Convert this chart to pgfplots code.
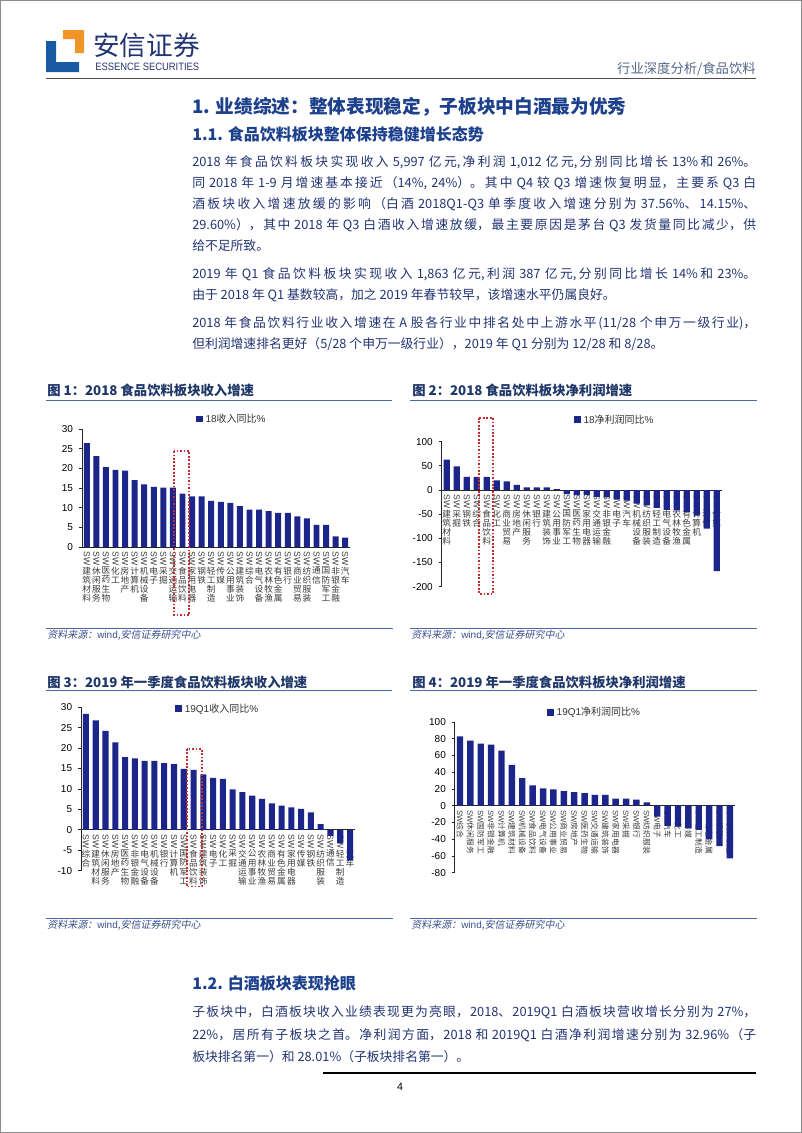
\documentclass[border=0pt]{standalone}
\usepackage{fontspec}
\setmainfont{Noto Sans CJK SC}
\newfontfamily\lib{Liberation Sans}
\newfontfamily\srcfont{Noto Sans CJK SC}[FakeSlant=0.2]
\usepackage{pgfplots}
\pgfplotsset{compat=1.18}
\XeTeXlinebreaklocale "zh"
\XeTeXlinebreakskip=0pt plus 2pt
\definecolor{barblue}{RGB}{28,38,138}
\definecolor{txt}{RGB}{35,52,115}
\definecolor{head}{RGB}{28,64,140}
\definecolor{cap}{RGB}{31,55,105}
\definecolor{capline}{RGB}{74,106,165}
\definecolor{src}{RGB}{60,80,140}
\definecolor{hdr}{RGB}{85,105,140}
\definecolor{logoorange}{RGB}{240,150,40}
\definecolor{logoblue}{RGB}{25,90,165}
\definecolor{redbox}{RGB}{195,45,50}
\definecolor{labgray}{RGB}{60,60,60}
\newcommand\tnfont{\lib\fontsize{7.5}{8}\selectfont}
\newcommand\tlfont{\fontsize{6.5}{6.9}\selectfont}
\newcommand\lgfont{\fontsize{7.5}{8}\selectfont}
\newcommand\sw[1]{\rotatebox{-90}{\lib SW}\\#1}
\tikzset{rbox/.style={draw=redbox, line width=1.3pt, dash pattern=on 1.3pt off 1.3pt}}
\pgfplotsset{
  chart/.style={
    scale only axis, anchor=south west, clip=false,
    ybar, bar width=0.62,
    axis y line=left,
    axis line style={-, black!85, line width=0.6pt},
    tick align=outside, major tick length=2.2pt,
    ytick style={black!85, line width=0.6pt},
    xtick style={draw=none},
    yticklabel style={font=\tnfont, text=black, xshift=-1pt},
    xticklabel style={font=\tlfont, text=labgray, align=center, anchor=north, inner sep=1pt, yshift=-1.2pt},
    /pgf/number format/assume math mode=true,
    legend style={draw=none, fill=none, anchor=center, font=\lgfont, text=black!80, inner sep=0pt},
    legend image code/.code={\fill[barblue] (0pt,-2.6pt) rectangle (5.2pt,2.6pt);},
  },
  noarrow/.style={
    every inner x axis line/.append style={-},
    every outer x axis line/.append style={-},
    every inner y axis line/.append style={-},
    every outer y axis line/.append style={-},
  },
  barplot/.style={fill=barblue, draw=none},
}
\begin{document}
\begin{tikzpicture}
\begin{scope}[x=0.75pt,y=-0.75pt]
\fill[white] (0,0) rectangle (802,1133);
\draw[black!45, line width=0.75pt] (0.5,0.5) rectangle (801.5,1132.5);
% logo
\fill[logoorange] (63,30) -- (84,30) -- (84,53) -- (75,53) -- (75,39) -- (63,39) -- cycle;
\fill[logoblue] (46,41) -- (56,41) -- (56,62) -- (79,62) -- (79,72) -- (46,72) -- cycle;
\node[anchor=west, inner sep=0pt, text=txt, font=\fontsize{20}{20}\selectfont] at (93,45) {安信证券};
\node[anchor=west, inner sep=0pt, text=txt] at (95,67) {\resizebox{78pt}{5.6pt}{\lib ESSENCE SECURITIES}};
\node[anchor=east, inner sep=0pt, text=hdr, font=\fontsize{10}{10}\selectfont] at (756,69) {行业深度分析/食品饮料};
\draw[black!70, line width=1.1pt] (46,78.5) -- (756,78.5);
% headings
\node[anchor=west, inner sep=0pt, text=head, font=\bfseries\fontsize{14}{14}\selectfont] at (192,107) {1. 业绩综述：整体表现稳定，子板块中白酒最为优秀};
\node[anchor=west, inner sep=0pt, text=head, font=\bfseries\fontsize{12}{12}\selectfont] at (192,134) {1.1. 食品饮料板块整体保持稳健增长态势};
\tikzset{para/.style={anchor=west, inner sep=0pt, text width=423pt, align=justify, text=txt, font=\fontsize{9.6}{12}\selectfont}}
\node[para] at (192,162) {\parfillskip=0pt 2018 年食品饮料板块实现收入 5,997 亿元,净利润 1,012 亿元,分别同比增长 13\%和 26\%。\par};
\node[para] at (192,183) {\parfillskip=0pt 同 2018 年 1-9 月增速基本接近（14\%, 24\%）。其中 Q4 较 Q3 增速恢复明显，主要系 Q3 白\par};
\node[para] at (192,204) {\parfillskip=0pt 酒板块收入增速放缓的影响（白酒 2018Q1-Q3 单季度收入增速分别为 37.56\%、14.15\%、\par};
\node[para] at (192,225) {\parfillskip=0pt 29.60\%），其中 2018 年 Q3 白酒收入增速放缓，最主要原因是茅台 Q3 发货量同比减少，供\par};
\node[para] at (192,246) {给不足所致。\par};
\node[para] at (192,274) {\parfillskip=0pt 2019 年 Q1 食品饮料板块实现收入 1,863 亿元,利润 387 亿元,分别同比增长 14\%和 23\%。\par};
\node[para] at (192,295) {由于 2018 年 Q1 基数较高，加之 2019 年春节较早，该增速水平仍属良好。\par};
\node[para] at (192,323) {\parfillskip=0pt 2018 年食品饮料行业收入增速在 A 股各行业中排名处中上游水平(11/28 个申万一级行业)，\par};
\node[para] at (192,344) {但利润增速排名更好（5/28 个申万一级行业），2019 年 Q1 分别为 12/28 和 8/28。\par};
% captions
\tikzset{capt/.style={anchor=west, inner sep=0pt, text=cap, font=\bfseries\fontsize{10}{10}\selectfont}}
\node[capt] at (47,390) {图 1：2018 食品饮料板块收入增速};
\node[capt] at (412,390) {图 2：2018 食品饮料板块净利润增速};
\node[capt] at (47,682) {图 3：2019 年一季度食品饮料板块收入增速};
\node[capt] at (412,682) {图 4：2019 年一季度食品饮料板块净利润增速};
\draw[capline, line width=1.2pt] (46,400.5) -- (392,400.5);
\draw[capline, line width=1.2pt] (410,400.5) -- (757,400.5);
\draw[capline, line width=1.2pt] (46,690.5) -- (392,690.5);
\draw[capline, line width=1.2pt] (410,690.5) -- (757,690.5);
% sources
\tikzset{srct/.style={anchor=west, inner sep=0pt, text=src, font=\srcfont\fontsize{7.5}{8}\selectfont}}
\draw[capline, line width=0.7pt] (46,628.3) -- (393,628.3);
\draw[capline, line width=0.7pt] (410,628.3) -- (757,628.3);
\draw[capline, line width=0.7pt] (46,918) -- (393,918);
\draw[capline, line width=0.7pt] (410,918) -- (757,918);
\node[srct] at (47,635.5) {资料来源：{\lib wind},安信证券研究中心};
\node[srct] at (411,635.5) {资料来源：{\lib wind},安信证券研究中心};
\node[srct] at (47,925) {资料来源：{\lib wind},安信证券研究中心};
\node[srct] at (411,925) {资料来源：{\lib wind},安信证券研究中心};
% section 1.2
\node[anchor=west, inner sep=0pt, text=head, font=\bfseries\fontsize{12}{12}\selectfont] at (192,983) {1.2. 白酒板块表现抢眼};
\node[para] at (192,1012) {\parfillskip=0pt 子板块中，白酒板块收入业绩表现更为亮眼，2018、2019Q1 白酒板块营收增长分别为 27\%，\par};
\node[para] at (192,1035) {\parfillskip=0pt 22\%，居所有子板块之首。净利润方面，2018 和 2019Q1 白酒净利润增速分别为 32.96\%（子\par};
\node[para] at (192,1057) {板块排名第一）和 28.01\%（子板块排名第一）。\par};
\draw[black, line width=0.8pt] (323,1073) -- (756,1073);
\node[inner sep=0pt, font=\lib\fontsize{8}{8}\selectfont] at (400,1087) {4};
\end{scope}

% ---------- Chart 1 ----------
\begin{axis}[chart, at={(61.5pt,-410.25pt)}, width=201pt, height=88.5pt,
  xmin=-0.5, xmax=27.5, ymin=0, ymax=30, ytick={0,5,...,30},
  axis x line=bottom, noarrow, xtick={0,...,27},
  xticklabels={{\sw{建\\筑\\材\\料}},{\sw{休\\闲\\服\\务}},{\sw{医\\药\\生\\物}},{\sw{化\\工}},{\sw{房\\地\\产}},{\sw{计\\算\\机}},{\sw{机\\械\\设\\备}},{\sw{电\\子}},{\sw{采\\掘}},{\sw{交\\通\\运\\输}},{\sw{食\\品\\饮\\料}},{\sw{家\\用\\电\\器}},{\sw{钢\\铁}},{\sw{轻\\工\\制\\造}},{\sw{传\\媒}},{\sw{公\\用\\事\\业}},{\sw{建\\筑\\装\\饰}},{\sw{综\\合}},{\sw{电\\气\\设\\备}},{\sw{农\\林\\牧\\渔}},{\sw{有\\色\\金\\属}},{\sw{银\\行}},{\sw{商\\业\\贸\\易}},{\sw{纺\\织\\服\\装}},{\sw{通\\信}},{\sw{国\\防\\军\\工}},{\sw{非\\银\\金\\融}},{\sw{汽\\车}}},
  legend style={at={(0.56,1.085)}}]
\addplot[barplot] coordinates {(0,26.4) (1,23.1) (2,20.3) (3,19.6) (4,19.4) (5,17.0) (6,15.9) (7,15.3) (8,15.1) (9,15.1) (10,13.6) (11,12.9) (12,12.9) (13,11.7) (14,11.5) (15,11.2) (16,10.4) (17,9.5) (18,9.5) (19,9.1) (20,8.7) (21,8.7) (22,7.8) (23,7.3) (24,5.6) (25,5.6) (26,2.7) (27,2.4)};
\addlegendentry{{\lib 18}收入同比{\lib\%}}
\draw[rbox] (axis cs:9.15,24.4) rectangle (axis cs:10.7,-17.3);
\end{axis}

% ---------- Chart 2 ----------
\begin{axis}[chart, at={(331.3pt,-440pt)}, width=210pt, height=108.75pt,
  xmin=-0.5, xmax=27.5, ymin=-200, ymax=100, ytick={-200,-150,...,100},
  axis x line=middle, noarrow, xtick={0,...,27},
  xticklabels={{\sw{建\\筑\\材\\料}},{\sw{采\\掘}},{\sw{钢\\铁}},{\sw{综\\合}},{\sw{食\\品\\饮\\料}},{\sw{化\\工}},{\sw{商\\业\\贸\\易}},{\sw{房\\地\\产}},{\sw{休\\闲\\服\\务}},{\sw{银\\行}},{\sw{建\\筑\\装\\饰}},{\sw{公\\用\\事\\业}},{\sw{国\\防\\军\\工}},{\sw{医\\药\\生\\物}},{\sw{家\\用\\电\\器}},{\sw{交\\通\\运\\输}},{\sw{非\\银\\金\\融}},{\sw{电\\子}},{\sw{汽\\车}},{\sw{机\\械\\设\\备}},{\sw{纺\\织\\服\\装}},{\sw{轻\\工\\制\\造}},{\sw{电\\气\\设\\备}},{\sw{农\\林\\牧\\渔}},{\sw{有\\色\\金\\属}},{\sw{计\\算\\机}},{\sw{通\\信}},{\sw{传\\媒}}},
  legend style={at={(0.619,1.15)}}]
\addplot[barplot] coordinates {(0,63) (1,49) (2,27) (3,27) (4,27) (5,20) (6,18) (7,10.5) (8,5.6) (9,5.6) (10,5.6) (11,2) (12,-8.5) (13,-10.5) (14,-10) (15,-14) (16,-15) (17,-20) (18,-22) (19,-28) (20,-32) (21,-37) (22,-41) (23,-42) (24,-46) (25,-53) (26,-80) (27,-168)};
\addlegendentry{{\lib 18}净利润同比{\lib\%}}
\draw[rbox] (axis cs:3.25,149) rectangle (axis cs:4.65,-215);
\end{axis}

% ---------- Chart 3 ----------
\begin{axis}[chart, at={(60.8pt,-653.0pt)}, width=205.4pt, height=122.55pt,
  xmin=-0.5, xmax=27.5, ymin=-10, ymax=30, ytick={-10,-5,...,30},
  axis x line=middle, noarrow, xtick={0,...,27},
  xticklabels={{\sw{综\\合}},{\sw{建\\筑\\材\\料}},{\sw{休\\闲\\服\\务}},{\sw{房\\地\\产}},{\sw{医\\药\\生\\物}},{\sw{非\\银\\金\\融}},{\sw{电\\气\\设\\备}},{\sw{机\\械\\设\\备}},{\sw{银\\行}},{\sw{计\\算\\机}},{\sw{国\\防\\军\\工}},{\sw{食\\品\\饮\\料}},{\sw{建\\筑\\装\\饰}},{\sw{电\\子}},{\sw{化\\工}},{\sw{采\\掘}},{\sw{交\\通\\运\\输}},{\sw{公\\用\\事\\业}},{\sw{农\\林\\牧\\渔}},{\sw{商\\业\\贸\\易}},{\sw{有\\色\\金\\属}},{\sw{家\\用\\电\\器}},{\sw{传\\媒}},{\sw{钢\\铁}},{\sw{纺\\织\\服\\装}},{\sw{通\\信}},{\sw{轻\\工\\制\\造}},{\sw{汽\\车}}},
  legend style={at={(0.5,0.99)}}]
\addplot[barplot] coordinates {(0,28.4) (1,26.8) (2,24.2) (3,21.4) (4,17.8) (5,17.5) (6,16.9) (7,16.9) (8,16.3) (9,16.1) (10,14.9) (11,14.7) (12,13.6) (13,12.7) (14,12.5) (15,9.9) (16,9.2) (17,8.4) (18,7.6) (19,6.5) (20,5.9) (21,5.5) (22,5.1) (23,4.3) (24,1.4) (25,-1.5) (26,-3.3) (27,-7.5)};
\addlegendentry{{\lib 19Q1}收入同比{\lib\%}}
\draw[rbox] (axis cs:10.3,19.8) rectangle (axis cs:11.83,-13.9);
\end{axis}

% ---------- Chart 4 ----------
\begin{axis}[chart, at={(341.1pt,-654.5pt)}, width=210.2pt, height=113pt,
  xmin=-0.5, xmax=26.5, ymin=-80, ymax=100, ytick={-80,-60,...,100},
  axis x line=middle, noarrow, xtick={0,...,26},
  xticklabel style={rotate=-90, anchor=west, font=\fontsize{5.8}{6}\selectfont, yshift=0pt},
  xticklabels={{{\lib SW}综合},{{\lib SW}休闲服务},{{\lib SW}国防军工},{{\lib SW}非银金融},{{\lib SW}计算机},{{\lib SW}建筑材料},{{\lib SW}机械设备},{{\lib SW}食品饮料},{{\lib SW}电气设备},{{\lib SW}公用事业},{{\lib SW}商业贸易},{{\lib SW}房地产},{{\lib SW}医药生物},{{\lib SW}交通运输},{{\lib SW}建筑装饰},{{\lib SW}家用电器},{{\lib SW}采掘},{{\lib SW}银行},{{\lib SW}纺织服装},{{\lib SW}电子},{{\lib SW}汽车},{{\lib SW}化工},{{\lib SW}传媒},{{\lib SW}轻工制造},{{\lib SW}有色金属},{{\lib SW}钢铁},{{\lib SW}农林牧渔}},
  legend style={at={(0.5,1.064)}}]
\addplot[barplot] coordinates {(0,82.7) (1,77.8) (2,74.2) (3,73) (4,65.7) (5,48.8) (6,33) (7,24.2) (8,20.6) (9,19.4) (10,17.3) (11,16.1) (12,14.9) (13,12.9) (14,12.9) (15,8.5) (16,8.5) (17,7.3) (18,4) (19,-12.9) (20,-24.2) (21,-25) (22,-27) (23,-29) (24,-40.3) (25,-48.4) (26,-62.9)};
\addlegendentry{{\lib 19Q1}净利润同比{\lib\%}}
\end{axis}
\end{tikzpicture}
\end{document}
